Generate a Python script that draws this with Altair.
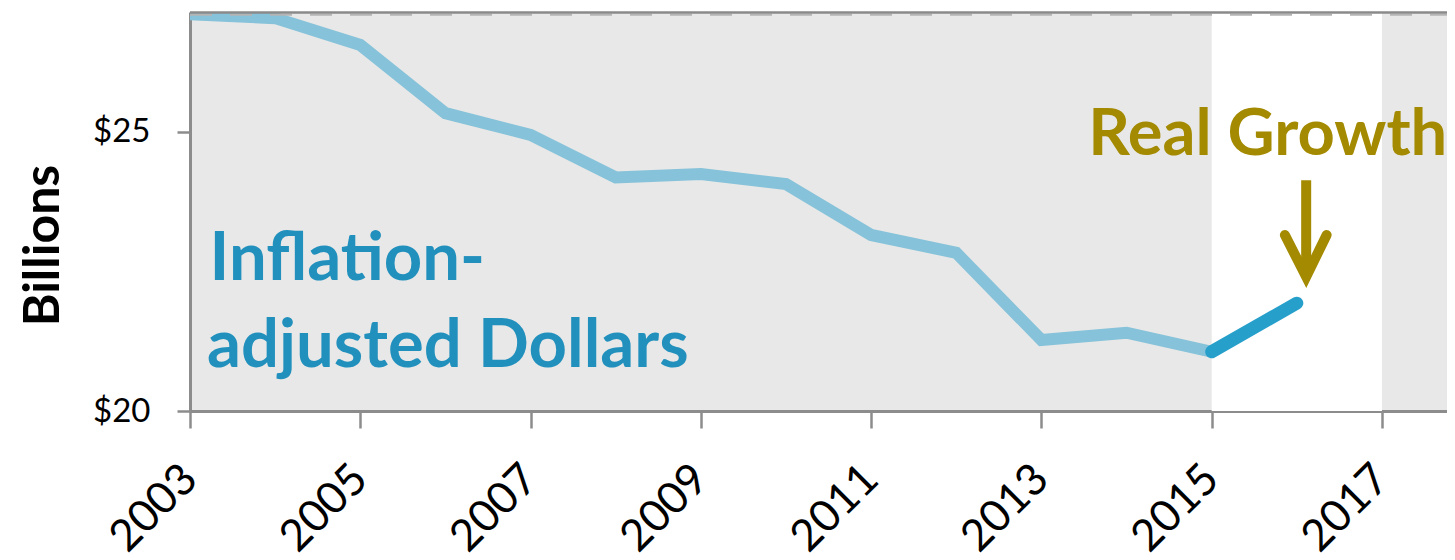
import altair as alt
import pandas as pd

# ---- data ----
years = [2003, 2004, 2005, 2006, 2007, 2008, 2009, 2010, 2011, 2012, 2013, 2014, 2015, 2016]
values = [27.10, 27.03, 26.55, 25.33, 24.94, 24.18, 24.24, 24.06, 23.15, 22.83, 21.27, 21.40, 21.06, 21.93]
growth_start = 2015  # dark segment starts here

x_ticks = [2003, 2005, 2007, 2009, 2011, 2013, 2015, 2017]
y_ticks = [20, 25]
x_domain = [2003, 2017.764]
y_domain = [20, 27.14]

band_start = [2015]
band_end = [2017]

# annotation texts (positions in data units)
infl_text = ["Inflation-", "adjusted Dollars"]
infl_x = [2003.23, 2003.20]
infl_y = [22.34, 20.79]

growth_text = ["Real Growth"]
growth_x = [2013.55]
growth_y = [24.58]

arrow_x = [2016.11]
arrow_top = [24.13]
arrow_tip = [22.40]
head_x = [2015.86, 2016.11, 2016.35]
head_y = [23.15, 22.40, 23.15]

W, H = 1257, 399
FONT = "Lato"
BLUE_TXT = "#2290BD"
LIGHT = "#86C2D9"
DARK = "#279FCB"
GOLD = "#A38A00"
AXIS_GRAY = "#8C8C8C"

df = pd.DataFrame({"year": years, "value": values})
light_df = df[df.year <= growth_start]
dark_df = df[df.year >= growth_start]

xs = alt.Scale(domain=x_domain, nice=False, zero=False)
ys = alt.Scale(domain=y_domain, nice=False, zero=False)

x_axis = alt.Axis(
    values=x_ticks,
    format="d",
    title=None,
    grid=False,
    labelAngle=-45,
    labelAlign="right",
    labelBaseline="middle",
    labelFont=FONT,
    labelFontSize=44,
    labelColor="black",
    labelPadding=44,
    tickSize=17,
    tickWidth=2.5,
    tickColor=AXIS_GRAY,
    domainColor=AXIS_GRAY,
    domainWidth=3,
    labelFlush=False,
    labelOverlap=False,
)
y_axis = alt.Axis(
    values=y_ticks,
    labelExpr="'$' + datum.value",
    title="Billions",
    titleFont=FONT,
    titleFontSize=50,
    titleFontWeight="bold",
    titleColor="black",
    titleAngle=270,
    titleAlign="center",
    titleBaseline="alphabetic",
    titleX=-132,
    titleY=233,
    grid=False,
    labelFont=FONT,
    labelFontSize=33,
    labelColor="black",
    labelPadding=27,
    tickSize=13,
    tickWidth=2.5,
    tickColor=AXIS_GRAY,
    domainColor=AXIS_GRAY,
    domainWidth=3,
)

band = alt.Chart(pd.DataFrame({"x": band_start, "x2": band_end})).mark_rect(
    color="white"
).encode(
    x=alt.X("x:Q", scale=xs, axis=x_axis),
    x2="x2:Q",
    y=alt.value(0),
    y2=alt.value(H),
)

top_solid = alt.Chart(pd.DataFrame({"a": [0]})).mark_rule(
    color="#8A8A8A", strokeWidth=2.5
).encode(x=alt.value(0), x2=alt.value(W), y=alt.value(0.5))
top_dash = alt.Chart(pd.DataFrame({"a": [0]})).mark_rule(
    color="#B4B4B4", strokeWidth=2, strokeDash=[22, 18]
).encode(x=alt.value(0), x2=alt.value(W), y=alt.value(2.8))

light_line = alt.Chart(light_df).mark_line(
    color=LIGHT, strokeWidth=12, clip=True, strokeJoin="miter"
).encode(
    x=alt.X("year:Q", scale=xs, axis=x_axis),
    y=alt.Y("value:Q", scale=ys, axis=y_axis),
)

dark_line = alt.Chart(dark_df).mark_line(
    color=DARK, strokeWidth=13, strokeCap="round", clip=True
).encode(x=alt.X("year:Q", scale=xs), y=alt.Y("value:Q", scale=ys))

infl = alt.Chart(pd.DataFrame({"t": infl_text, "x": infl_x, "y": infl_y})).mark_text(
    align="left", baseline="alphabetic", font=FONT, fontWeight="bold",
    fontSize=67, color=BLUE_TXT
).encode(x=alt.X("x:Q", scale=xs), y=alt.Y("y:Q", scale=ys), text="t:N")

growth = alt.Chart(pd.DataFrame({"t": growth_text, "x": growth_x, "y": growth_y})).mark_text(
    align="left", baseline="alphabetic", font=FONT, fontWeight="bold",
    fontSize=65, color=GOLD
).encode(x=alt.X("x:Q", scale=xs), y=alt.Y("y:Q", scale=ys), text="t:N")

shaft = alt.Chart(pd.DataFrame({"x": arrow_x, "y": arrow_top, "y2": arrow_tip})).mark_rule(
    color=GOLD, strokeWidth=10
).encode(x=alt.X("x:Q", scale=xs), y=alt.Y("y:Q", scale=ys), y2="y2:Q")

head = alt.Chart(pd.DataFrame({"x": head_x, "y": head_y, "o": [0, 1, 2]})).mark_line(
    color=GOLD, strokeWidth=10, strokeJoin="miter", strokeCap="round"
).encode(x=alt.X("x:Q", scale=xs), y=alt.Y("y:Q", scale=ys), order="o:Q")

chart = alt.layer(
    band, light_line, dark_line, top_dash, top_solid, infl, growth, shaft, head
).properties(
    width=W,
    height=H,
    autosize=alt.AutoSizeParams(type="none"),
    padding={"left": 182, "top": 4, "right": 0, "bottom": 148},
).configure_view(fill="#E8E8E8", stroke=None)

chart.save("out.html", embed_options={"renderer": "svg", "actions": False})
